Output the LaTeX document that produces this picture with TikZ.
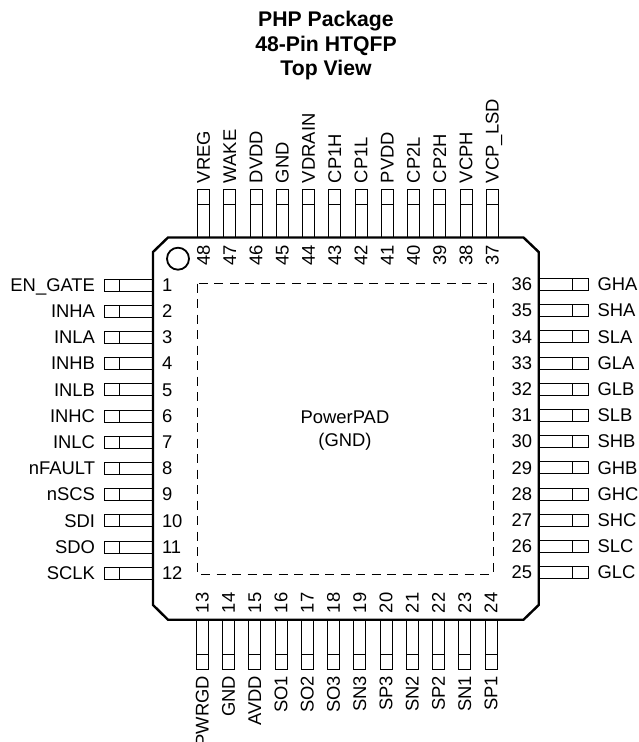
\documentclass[tikz,border=0pt]{standalone}
\usepackage{fontspec}
\setmainfont{Liberation Sans}
\tikzset{
  pinbox/.style={draw=black,line width=1pt,line join=miter},
  pintext/.style={inner sep=0pt,outer sep=0pt,font=\fontsize{18.4}{20}\selectfont},
  titletext/.style={inner sep=0pt,outer sep=0pt,align=center,font=\fontsize{21.2}{24.5}\selectfont\bfseries},
  padtext/.style={inner sep=0pt,outer sep=0pt,align=center,font=\fontsize{18.4}{23}\selectfont},
}
\begin{document}
\begin{tikzpicture}[x=1pt,y=-1pt]
\useasboundingbox (0,0) rectangle (638,742);
\clip (0,0) rectangle (638,742);
\node[titletext] (title) at (326,46) {PHP Package\\48-Pin HTQFP\\Top View};
% left side pins
\foreach \n/\t in {1/EN\_GATE,2/INHA,3/INLA,4/INHB,5/INLB,6/INHC,7/INLC,8/nFAULT,9/nSCS,10/SDI,11/SDO,12/SCLK}{
  \pgfmathsetmacro\yy{285+(\n-1)*26.2}
  \draw[pinbox] (104,\yy-6) rectangle (153,\yy+6);
  \draw[pinbox] (119,\yy-6) -- (119,\yy+6);
  \node[pintext,anchor=base east] (lab\n) at (95,\yy+6.2) {\t};
  \node[pintext,anchor=base west] (num\n) at (162,\yy+6.2) {\n};
}
% right side pins
\foreach \n/\t in {36/GHA,35/SHA,34/SLA,33/GLA,32/GLB,31/SLB,30/SHB,29/GHB,28/GHC,27/SHC,26/SLC,25/GLC}{
  \pgfmathsetmacro\yy{284.5+(36-\n)*26.2}
  \draw[pinbox] (539,\yy-6) rectangle (588,\yy+6);
  \draw[pinbox] (572.7,\yy-6) -- (572.7,\yy+6);
  \node[pintext,anchor=base west] (lab\n) at (597.5,\yy+6.2) {\t};
  \node[pintext,anchor=base east] (num\n) at (532,\yy+6.2) {\n};
}
% top pins
\foreach \n/\t in {48/VREG,47/WAKE,46/DVDD,45/GND,44/VDRAIN,43/CP1H,42/CP1L,41/PVDD,40/CP2L,39/CP2H,38/VCPH,37/VCP\_LSD}{
  \pgfmathsetmacro\xx{203.7+(48-\n)*26.24}
  \draw[pinbox] (\xx-6,189) rectangle (\xx+6,237);
  \draw[pinbox] (\xx-6,204) -- (\xx+6,204);
  \node[pintext,rotate=90,anchor=base west] (lab\n) at (\xx+6.2,183) {\t};
  \node[pintext,rotate=90,anchor=base west] (num\n) at (\xx+6.2,265.7) {\n};
}
% bottom pins
\foreach \n/\t in {13/PWRGD,14/GND,15/AVDD,16/SO1,17/SO2,18/SO3,19/SN3,20/SP3,21/SN2,22/SP2,23/SN1,24/SP1}{
  \pgfmathsetmacro\xx{202.5+(\n-13)*26.24}
  \draw[pinbox] (\xx-6,620) rectangle (\xx+6,669.3);
  \draw[pinbox] (\xx-6,654.3) -- (\xx+6,654.3);
  \node[pintext,rotate=90,anchor=base east] (lab\n) at (\xx+6.2,676) {\t};
  \node[pintext,rotate=90,anchor=base west] (num\n) at (\xx+6.2,613) {\n};
}
% package body
\draw[black,line width=2.4pt,line join=miter,fill=none]
  (168,237.5) -- (523.5,237.5) -- (538.7,252) -- (538.7,605) -- (523.5,619.7) -- (168,619.7) -- (153,605) -- (153,252) -- cycle;
\draw[black,line width=1.8pt] (178,258.7) circle (11);
% PowerPAD
\draw[black,line width=1pt,dash pattern=on 9pt off 6.5pt] (197,283.7) rectangle (493.3,574);
\node[padtext] (pad) at (345,431) {PowerPAD\\(GND)};
\end{tikzpicture}
\end{document}
